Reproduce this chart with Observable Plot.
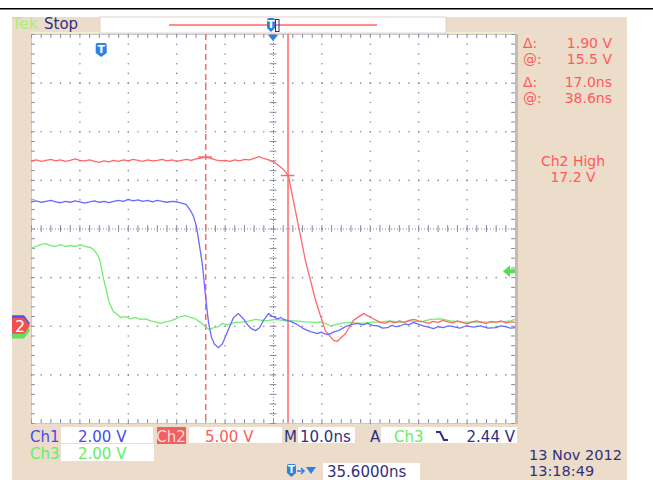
<!DOCTYPE html>
<html><head><meta charset="utf-8">
<script src="https://cdn.jsdelivr.net/npm/d3@7"></script>
<script src="https://cdn.jsdelivr.net/npm/@observablehq/plot@0.6"></script>
<style>
html,body{margin:0;padding:0;background:#fff;}
#chart{width:653px;height:480px;position:relative;overflow:hidden;}
svg{display:block;}
</style></head><body><div id="chart"></div>
<script>
// ---- Data (time in ns relative to screen centre, level in screen divisions) ----
const ch1 = [[-50,0.56],[-49,0.58],[-48,0.55],[-47,0.57],[-46,0.59],[-45,0.56],[-44,0.54],[-43,0.57],[-42,0.55],[-41,0.58],[-40,0.56],[-39,0.53],[-38,0.56],[-37,0.58],[-36,0.55],[-35,0.57],[-34,0.54],[-33,0.57],[-32,0.59],[-31,0.57],[-30,0.61],[-29,0.58],[-28,0.60],[-27,0.57],[-26,0.59],[-25,0.56],[-24,0.59],[-23,0.57],[-22,0.55],[-21,0.57],[-20,0.56],[-19,0.53],[-18,0.50],
[-17.15,0.38],[-16.53,0.26],[-15.91,0.05],[-15.29,-0.34],[-14.67,-0.75],[-14.05,-1.37],[-13.43,-1.92],[-12.81,-2.23],[-12.19,-2.37],[-11.36,-2.44],[-10.54,-2.36],[-9.5,-2.11],[-8.26,-1.82],[-7.23,-1.74],[-6.2,-1.85],[-5.37,-1.97],[-4.55,-2.05],[-3.72,-2.09],[-2.89,-2.03],[-2.07,-1.88],[-1.03,-1.74],[-0.21,-1.80],[0.83,-1.85],[1.5,-1.82],[2.07,-1.86],[2.8,-1.88],[3.51,-1.90],[4.2,-1.93],[4.96,-1.97],[5.6,-2.01],[6.2,-2.05],[6.9,-2.08],[7.64,-2.11],[8.4,-2.13],[9.09,-2.15],[9.8,-2.12],[10.54,-2.15],[11.2,-2.17],[11.78,-2.15],[12.6,-2.11],[13.43,-2.09],[14.3,-2.04],[15.29,-1.99],[16.3,-1.96],[17.36,-1.94],[18.4,-1.97],[19.42,-1.94],[20.5,-1.98],[21.49,-1.99],[22.5,-2.04],[23.55,-2.03],[24.5,-1.98],[25.3,-2.01],[26.24,-1.99],[27.2,-1.95],[28,-1.97],[28.93,-1.92],[30,-1.96],[30.99,-1.99],[32,-2.02],[33.06,-2.05],[34,-2.01],[35.12,-2.03],[36.2,-1.99],[37.19,-2.01],[38.5,-2.04],[39.88,-1.99],[41.3,-2.02],[42.77,-1.99],[44.3,-2.04],[45.87,-2.03],[47,-1.99],[47.93,-2.01],[49,-2.04],[50,-2.03]];

const ch2 = [[-50,1.40],[-49,1.42],[-48,1.39],[-47,1.41],[-46,1.43],[-45,1.40],[-44,1.42],[-43,1.39],[-42,1.41],[-41,1.44],[-40,1.41],[-39,1.40],[-38,1.42],[-37,1.39],[-36,1.37],[-35,1.40],[-34,1.38],[-33,1.41],[-32,1.39],[-31,1.42],[-30,1.40],[-29,1.43],[-28,1.41],[-27,1.39],[-26,1.42],[-25,1.40],[-24,1.41],[-23,1.43],[-22,1.40],[-21,1.42],[-20,1.39],[-19,1.41],[-18,1.43],[-17,1.41],[-16,1.44],[-15,1.46],[-14,1.48],[-13,1.45],[-12,1.42],[-11,1.40],[-10,1.41],[-9,1.39],[-8,1.42],[-7,1.40],[-6,1.43],[-5,1.42],[-4,1.45],[-3,1.49],[-2,1.45],[-1,1.42],[0,1.38],
[1,1.31],[2,1.23],[2.5,1.17],[3.1,1.08],[4.5,0.39],[6.6,-0.65],[8.7,-1.47],[10.7,-2.09],[12.4,-2.29],[13.2,-2.31],[14.9,-2.15],[16.5,-1.88],[18.6,-1.74],[20.5,-1.84],[22.1,-1.92],
[23,-1.94],[24,-1.90],[25,-1.93],[26,-1.89],[27,-1.92],[28,-1.88],[29,-1.86],[30,-1.89],[31,-1.91],[32,-1.94],[33,-1.90],[34,-1.92],[35,-1.88],[36,-1.91],[37,-1.93],[38,-1.89],[39,-1.92],[40,-1.95],[41,-1.91],[42,-1.89],[43,-1.92],[44,-1.94],[45,-1.90],[46,-1.92],[47,-1.89],[48,-1.93],[49,-1.91],[50,-1.92]];

const ch3 = [[-50,-0.40],[-49.17,-0.36],[-48.14,-0.32],[-47.11,-0.30],[-46.07,-0.34],[-45.04,-0.36],[-44.01,-0.32],[-42.98,-0.36],[-41.94,-0.34],[-40.91,-0.36],[-39.88,-0.32],[-38.84,-0.36],[-37.81,-0.38],[-37.19,-0.42],[-36.57,-0.50],[-35.95,-0.61],[-35.54,-0.81],[-35.12,-1.02],[-34.5,-1.27],[-34.09,-1.47],[-33.47,-1.62],[-33.06,-1.70],[-32.23,-1.76],[-31.61,-1.82],[-30.58,-1.80],[-29.55,-1.85],[-28.51,-1.82],[-27.48,-1.86],[-26.45,-1.85],[-25.41,-1.89],[-24.38,-1.91],[-23.35,-1.94],[-22.31,-1.91],[-21.28,-1.89],[-20.25,-1.85],[-19.21,-1.80],[-18.18,-1.78],[-17.15,-1.82],[-16.12,-1.85],[-15.08,-1.92],[-14.05,-2.01],[-13.22,-2.07],[-12.4,-2.03],[-11.36,-2.01],[-10.54,-1.94],[-9.5,-1.97],[-7.85,-1.92],[-5.79,-1.91],[-3.72,-1.86],[-1.65,-1.89],[0.41,-1.86],[2.48,-1.89],[4.55,-1.89],[6.61,-1.91],[8.68,-1.92],[9.71,-1.91],[10.74,-1.94],[11.78,-1.99],[13.84,-1.94],[15.91,-1.92],[17.98,-1.94],[20.04,-1.92],[22.11,-1.91],[24.17,-1.89],[26.24,-1.92],[28.31,-1.89],[30.37,-1.91],[32.44,-1.86],[34.5,-1.85],[36.57,-1.89],[38.64,-1.91],[40.7,-1.92],[42.77,-1.91],[44.83,-1.92],[46.9,-1.91],[48.97,-1.89],[50,-1.86]];

// channel settings / readouts
const channels = ["Ch1","Ch2","Ch3"];
const voltsPerDiv = [2.00, 5.00, 2.00];
const groundDiv = [-1.95, -2.0, -2.1];
const timePerDiv = 10.0;           // ns
const triggerDelay = 35.6;          // ns from trigger to screen centre
const triggerLevel = 2.44;          // V on Ch3
const cursorTimes = [21.6, 38.6];   // ns after trigger
const cursorVolts = [15.5, 17.4];   // V on Ch2
const readLabels = ["Δ:","@:","Δ:","@:"];
const readValues = ["1.90 V","15.5 V","17.0ns","38.6ns"];
const dateText = ["13 Nov 2012","13:18:49"];

// ---- grid helpers ----
const majorX = d3.range(-50, 51, 10), majorY = d3.range(-4, 5, 1);
const gridPts = [];
for (const gx of majorX) if (gx !== 0 && Math.abs(gx) !== 50) for (let k = -20; k <= 20; k++) gridPts.push({x: gx, y: k / 5});
for (const gy of majorY) if (gy !== 0 && Math.abs(gy) !== 4) for (let k = -25; k <= 25; k++) gridPts.push({x: k * 2, y: gy});
const minorY = d3.range(-20, 21).map(k => k / 5);
const minorX = d3.range(-25, 26).map(k => k * 2);

const gridCol = "#8484a8";
const red = "#ff6868", blue = "#6a6aff", green = "#72ec72";
const cx = cursorTimes.map(t => t - triggerDelay);
const cy = cursorVolts.map(v => v / voltsPerDiv[1] + groundDiv[1]);
const line = arr => arr.map(([t, d]) => ({t, d}));

const plot = Plot.plot({
  width: 653, height: 480,
  marginLeft: 31, marginRight: 138, marginTop: 34, marginBottom: 57,
  x: {domain: [-50, 50], axis: null},
  y: {domain: [-4, 4], axis: null},
  marks: [
    Plot.frame({fill: "white", stroke: null}),
    Plot.dot(gridPts, {x: "x", y: "y", r: 0.8, fill: gridCol, stroke: null}),
    Plot.ruleX([0], {stroke: gridCol, strokeDasharray: "1,2"}),
    Plot.ruleY([0], {stroke: gridCol, strokeDasharray: "1,2"}),
    Plot.ruleY(minorY, {y: d => d, x1: () => -0.7, x2: () => 0.7, stroke: gridCol}),
    Plot.ruleX(minorX, {x: d => d, y1: () => -0.07, y2: () => 0.07, stroke: gridCol}),
    Plot.ruleX(minorX, {x: d => d, y1: () => 4, y2: () => 3.92, stroke: gridCol}),
    Plot.ruleX(minorX, {x: d => d, y1: () => -4, y2: () => -3.92, stroke: gridCol}),
    Plot.ruleY(minorY, {y: d => d, x1: () => -50, x2: () => -49.2, stroke: gridCol}),
    Plot.ruleY(minorY, {y: d => d, x1: () => 50, x2: () => 49.2, stroke: gridCol}),
    Plot.frame({stroke: "#a0a0bc", strokeDasharray: "1,1"}),
    Plot.ruleX([cx[0]], {stroke: red, strokeWidth: 1.5, strokeDasharray: "6,4"}),
    Plot.ruleX([cx[1]], {stroke: red, strokeWidth: 1.5}),
    Plot.line(line(ch3), {x: "t", y: "d", stroke: green, strokeWidth: 1.3}),
    Plot.line(line(ch2), {x: "t", y: "d", stroke: red, strokeWidth: 1.3}),
    Plot.line(line(ch1), {x: "t", y: "d", stroke: blue, strokeWidth: 1.3}),
    Plot.ruleY([0, 1], {y: i => cy[1 - i], x1: i => cx[i] - 1.4, x2: i => cx[i] + 1.4, stroke: red, strokeWidth: 1.5})
  ]
});
document.getElementById("chart").append(plot);

const svg = d3.select(plot);
const X = v => plot.scale("x").apply(v), Y = v => plot.scale("y").apply(v);
const font = "DejaVu Sans, Verdana, sans-serif";
const navy = "#303080";

// background panel (behind everything)
svg.insert("rect", ":first-child").attr("x", 12).attr("y", 17).attr("width", 615).attr("height", 463).attr("fill", "#ecdcca");
svg.insert("rect", ":first-child").attr("x", 0).attr("y", 0).attr("width", 653).attr("height", 480).attr("fill", "#fff");
const deco = svg.append("g");
deco.append("rect").attr("x", 0).attr("y", 8).attr("width", 653).attr("height", 1.5).attr("fill", "#000");
// shadow right of grid and cream line on top
deco.append("rect").attr("x", 515).attr("y", 34).attr("width", 3).attr("height", 390).attr("fill", "#c4bcb4");
deco.append("rect").attr("x", 31).attr("y", 32).attr("width", 484).attr("height", 1.5).attr("fill", "#f6f0c8");

function txt(x, y, s, fill, anchor = "start", size = 15, g = deco) {
  return g.append("text").attr("x", x).attr("y", y).attr("fill", fill).attr("text-anchor", anchor)
    .attr("font-family", font).attr("font-size", size).text(s);
}

// header
txt(12, 29, "Tek", "#a8f080", "start", 16);
txt(44, 29, "Stop", navy, "start", 15);
deco.append("rect").attr("x", 100).attr("y", 17).attr("width", 346).attr("height", 16).attr("fill", "#fff").attr("stroke", "#e0d4c4");
deco.append("line").attr("x1", 169).attr("x2", 377).attr("y1", 25).attr("y2", 25).attr("stroke", red).attr("stroke-width", 1.5);
function shield(x, y, w, h) {
  deco.append("path").attr("d", `M${x},${y + 2} Q${x},${y} ${x + 2},${y} H${x + w - 2} Q${x + w},${y} ${x + w},${y + 2} V${y + h - 4} L${x + w / 2},${y + h} L${x},${y + h - 4} Z`).attr("fill", "#2a82e4");
  txt(x + w / 2, y + h - 4, "T", "#fff", "middle", h - 3).attr("font-weight", "bold");
}
shield(267, 18, 8, 14);
deco.append("rect").attr("x", 275.5).attr("y", 19.5).attr("width", 3.5).attr("height", 12).attr("fill", "none").attr("stroke", navy).attr("stroke-width", 1);
// trigger position marker (at trigger time)
shield(X(-triggerDelay) - 5, 43, 11, 14);
// centre expansion marker
deco.append("path").attr("d", `M${X(0) - 5},35 H${X(0) + 5} L${X(0)},41 Z`).attr("fill", "#2a82e4");

// channel ground markers on the left (Ch2 drawn on top, hiding the others' labels)
const mcol = [["#5050e8", "1"], ["#f05050", "2"], ["#60e060", "3"]];
[0, 2, 1].forEach(i => {
  const yy = Y(groundDiv[i]);
  deco.append("path").attr("d", `M12,${yy - 8} H24 L30,${yy} L24,${yy + 8} H12 Z`).attr("fill", mcol[i][0]);
  if (i === 1) txt(20, yy + 6, mcol[i][1], "#fff", "middle", 16);
});
// trigger level arrow (Ch3)
const ty = Y(triggerLevel / voltsPerDiv[2] + groundDiv[2]);
deco.append("path").attr("d", `M503,${ty} L510,${ty - 6} V${ty - 2} H515 V${ty + 2} H510 V${ty + 6} Z`).attr("fill", "#50e050");

// readouts on the right
const rowY = [48, 64, 87, 103];
readLabels.forEach((l, i) => { txt(523, rowY[i], l, "#ff5a5a", "start", 14); txt(612, rowY[i], readValues[i], "#ff5a5a", "end", 14); });
txt(573, 166, "Ch2 High", "#ff5a5a", "middle", 14);
txt(573, 182, "17.2 V", "#ff5a5a", "middle", 14);

// bottom status
function box(x, y, w, h, fill = "#fff") { deco.append("rect").attr("x", x).attr("y", y).attr("width", w).attr("height", h).attr("fill", fill); }
box(61, 427, 92, 16); box(157, 427, 29, 17, "#f06060"); box(189, 427, 93, 16); box(298, 427, 57, 16); box(381, 427, 136, 16);
box(61, 444, 93, 17); box(323, 463, 97, 17);
const fmtV = v => v.toFixed(2) + " V";
txt(30, 442, channels[0], "#4a4ae8"); txt(78, 442, fmtV(voltsPerDiv[0]), "#4a4ae8");
txt(171, 442, channels[1], "#ffd8d8", "middle"); txt(205, 442, fmtV(voltsPerDiv[1]), "#ff5a5a");
txt(284, 442, "M", navy); txt(300, 442, timePerDiv.toFixed(1) + "ns", navy);
txt(370, 442, "A", navy); txt(394, 442, channels[2], "#66ee66");
deco.append("path").attr("d", "M436,432 H440 L444,440 H448").attr("fill", "none").attr("stroke", navy).attr("stroke-width", 2);
txt(515, 442, triggerLevel.toFixed(2) + " V", navy, "end");
txt(30, 459, channels[2], "#66ee66"); txt(78, 459, fmtV(voltsPerDiv[2]), "#66ee66");
shield(287, 464, 9, 13);
deco.append("path").attr("d", "M297,471 H304 M301,468 L304,471 L301,474").attr("stroke", "#2a82e4").attr("stroke-width", 1.5).attr("fill", "none");
deco.append("path").attr("d", "M306,467 H316 L311,474 Z").attr("fill", "#2a82e4");
txt(327, 477, triggerDelay.toFixed(4) + "ns", navy);
txt(529, 460, dateText[0], navy, "start", 14.5); txt(529, 476, dateText[1], navy, "start", 14.5);
</script></body></html>
